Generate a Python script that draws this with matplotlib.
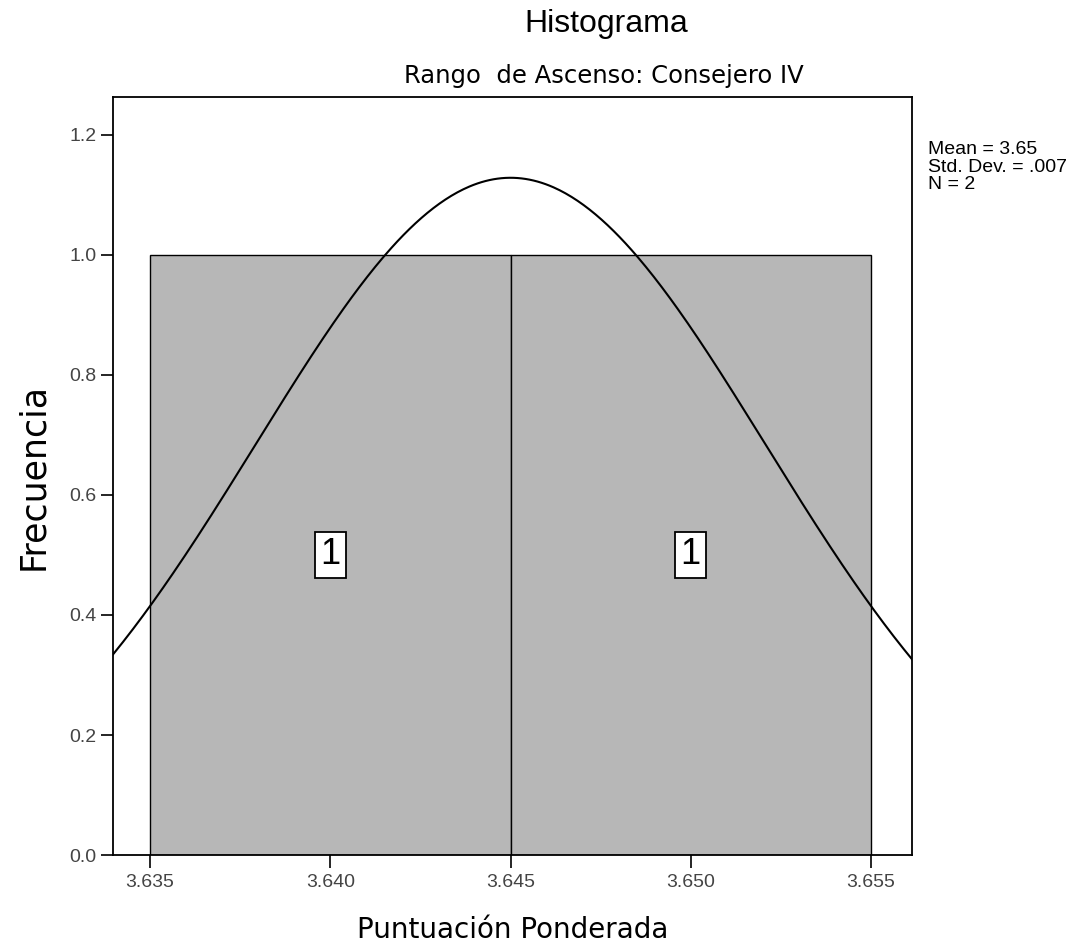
import numpy as np
import matplotlib
matplotlib.use("Agg")
import matplotlib.pyplot as plt

# Data
values = [3.640, 3.650]
bin_edges = [3.635, 3.645, 3.655]
counts = [1, 1]
xticks = [3.635, 3.640, 3.645, 3.650, 3.655]
xtick_labels = ["3.635", "3.640", "3.645", "3.650", "3.655"]
yticks = [0.0, 0.2, 0.4, 0.6, 0.8, 1.0, 1.2]
ytick_labels = ["0.0", "0.2", "0.4", "0.6", "0.8", "1.0", "1.2"]

plt.rcParams['font.family'] = ['Liberation Sans', 'DejaVu Sans']

fig = plt.figure(figsize=(10.9, 9.47), dpi=100)
ax = fig.add_axes([0.1037, 0.0971, 0.7330, 0.8005])

lefts = bin_edges[:-1]
widths = np.diff(bin_edges)
ax.bar(lefts, counts, width=widths, align='edge', color='#b7b7b7',
       edgecolor='black', linewidth=1.0, zorder=1)

# count labels
for l, w, c in zip(lefts, widths, counts):
    ax.text(l + w / 2, c * 0.50, str(c), ha='center', va='center', fontsize=26,
            bbox=dict(boxstyle='square,pad=0.15', facecolor='white', edgecolor='black', linewidth=1.3),
            zorder=3)

# normal curve
mean = np.mean(values)
sd = np.std(values, ddof=1)
n = len(values)
bw = widths[0]
xs = np.linspace(3.63397, 3.65614, 400)
ys = n * bw / (sd * np.sqrt(2 * np.pi)) * np.exp(-0.5 * ((xs - mean) / sd) ** 2)
ax.plot(xs, ys, color='black', linewidth=1.5, zorder=2)

ax.set_xlim(3.63397, 3.65614)
ax.set_ylim(0, 1.263)
ax.set_xticks(xticks)
ax.set_xticklabels(xtick_labels, fontsize=14, color='#444444')
ax.set_yticks(yticks)
ax.set_yticklabels(ytick_labels, fontsize=14, color='#444444')
ax.tick_params(axis='both', direction='out', length=9, width=1.2)
ax.tick_params(axis='x', pad=5)
ax.tick_params(axis='y', pad=3)
for s in ax.spines.values():
    s.set_linewidth(1.3)

ax.set_xlabel("Puntuación Ponderada", fontsize=20, labelpad=18, family=['DejaVu Sans'])
ax.set_ylabel("Frecuencia", fontsize=25, labelpad=14, family=['DejaVu Sans'])

fig.text(0.556, 0.975, "Histograma", ha='center', va='center', fontsize=23)
fig.text(0.554, 0.920, "Rango  de Ascenso: Consejero IV", ha='center', va='center',
         fontsize=17.5, family=['DejaVu Sans'])

fig.text(0.851, 0.851, "Mean = 3.65\nStd. Dev. = .007\nN = 2", ha='left', va='top',
         fontsize=14, linespacing=1.05)

fig.savefig("out.png", dpi=100)
